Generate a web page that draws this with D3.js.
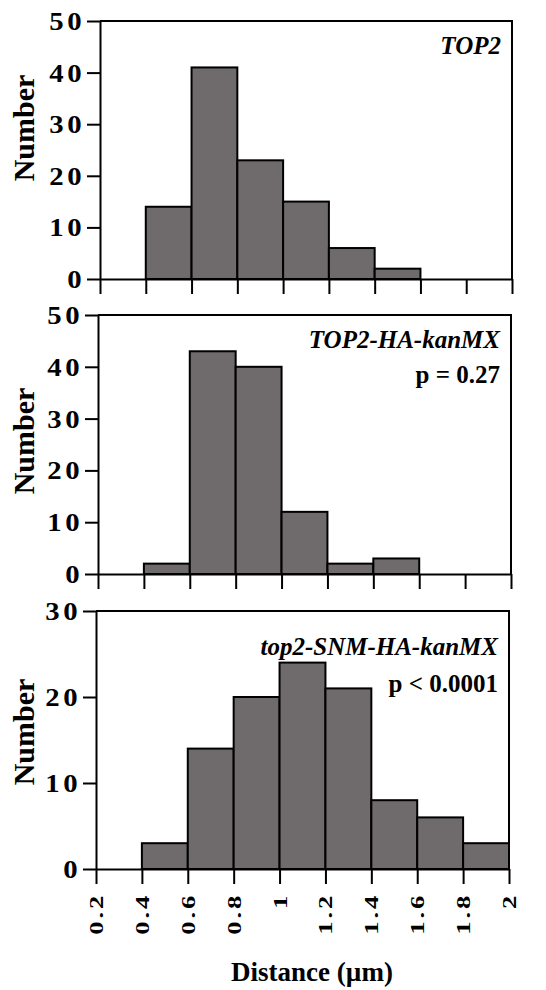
<!DOCTYPE html>
<html>
<head>
<meta charset="utf-8">
<script src="https://cdn.jsdelivr.net/npm/d3@7"></script>
<style>
  body { margin: 0; background: #fff; }
  svg { display: block; }
  text { font-family: "Liberation Serif", "Times New Roman", serif; font-weight: bold; fill: #000; }
  .axis path, .axis line { stroke: #000; stroke-width: 2px; }
  .bar { fill: #6f6a6b; stroke: #000; stroke-width: 2px; }
</style>
</head>
<body>
<div class="chart"></div>
<script>
// bins of 0.2 um, starting at these values
var binStarts = [0.2, 0.4, 0.6, 0.8, 1.0, 1.2, 1.4, 1.6, 1.8];
var xTicks = [0.2, 0.4, 0.6, 0.8, 1, 1.2, 1.4, 1.6, 1.8, 2];
var xTickLabels = ["0.2", "0.4", "0.6", "0.8", "1", "1.2", "1.4", "1.6", "1.8", "2"];

// counts
var top2Counts = [0, 14, 41, 23, 15, 6, 2, 0, 0];
var haCounts   = [0, 2, 43, 40, 12, 2, 3, 0, 0];
var snmCounts  = [0, 3, 14, 20, 24, 21, 8, 6, 3];

var strains = ["TOP2", "TOP2-HA-kanMX", "top2-SNM-HA-kanMX"];
var pValues = [null, "p = 0.27", "p < 0.0001"];
var yMaxes = [50, 50, 30];
var counts = [top2Counts, haCounts, snmCounts];

// where each panel sits on the page
var layout = [
  {left: 100, top: 21, width: 412, height: 258, labelY: 128, nameY: 33, pY: 68},
  {left: 98, top: 315, width: 413, height: 259, labelY: 441, nameY: 33, pY: 68},
  {left: 96, top: 611, width: 413, height: 258, labelY: 732, nameY: 44, pY: 81}
];

var svg = d3.select(".chart").append("svg")
    .attr("width", 546)
    .attr("height", 990);

layout.forEach(function(L, p) {
  var width = L.width, height = L.height;

  var x = d3.scaleLinear().domain([0.2, 2]).range([0, width]);
  var y = d3.scaleLinear().domain([0, yMaxes[p]]).range([height, 0]);

  var g = svg.append("g")
      .attr("transform", `translate(${L.left}, ${L.top})`);

  var data = binStarts.map(function(b, i) { return {x0: b, x1: b + 0.2, n: counts[p][i]}; })
      .filter(function(d) { return d.n > 0; });

  // bars
  g.selectAll(".bar")
      .data(data)
    .enter().append("rect")
      .attr("class", "bar")
      .attr("x", function(d) { return x(d.x0); })
      .attr("y", function(d) { return y(d.n); })
      .attr("width", function(d) { return x(d.x1) - x(d.x0); })
      .attr("height", function(d) { return height - y(d.n); });

  // frame: top and right
  g.append("path")
      .attr("d", `M0,0H${width}V${height}`)
      .attr("fill", "none")
      .attr("stroke", "#000")
      .attr("stroke-width", 2);

  // x axis
  var xAxis = g.append("g")
      .attr("class", "axis")
      .attr("transform", `translate(0, ${height})`)
      .call(d3.axisBottom(x).tickValues(xTicks).tickSize(15).tickSizeOuter(0)
            .tickFormat(function(d, i) { return p == 2 ? xTickLabels[i] : ""; }));

  xAxis.selectAll("text")
      .attr("x", 0)
      .attr("y", 0)
      .attr("dy", 0)
      .attr("text-anchor", "end")
      .style("font-size", "19px")
      .style("letter-spacing", "2px")
      .attr("transform", "translate(6.5, 24) rotate(-90) scale(1.4, 1)");

  // y axis
  var yAxis = g.append("g")
      .attr("class", "axis")
      .call(d3.axisLeft(y).ticks(yMaxes[p] / 10).tickSize(13).tickSizeOuter(0));

  yAxis.selectAll("text")
      .attr("x", 0)
      .attr("dy", "0.34em")
      .attr("transform", "translate(-15, 0) scale(1.15, 1)")
      .style("font-size", "25px")
      .style("letter-spacing", "3px");

  // y label
  svg.append("text")
      .attr("transform", `translate(34, ${L.labelY}) rotate(-90)`)
      .style("text-anchor", "middle")
      .style("font-size", "30px")
      .text("Number");

  // strain name and p value
  g.append("text")
      .attr("x", width - 11)
      .attr("y", L.nameY)
      .style("text-anchor", "end")
      .style("font-style", "italic")
      .style("font-size", "25px")
      .text(strains[p]);

  if (pValues[p]) {
    g.append("text")
        .attr("x", width - 11)
        .attr("y", L.pY)
        .style("text-anchor", "end")
        .style("font-size", "25px")
        .text(pValues[p]);
  }
});

// x label
svg.append("text")
    .attr("x", 312)
    .attr("y", 981)
    .style("text-anchor", "middle")
    .style("font-size", "27px")
    .text("Distance (\u00b5m)");
</script>
</body>
</html>
